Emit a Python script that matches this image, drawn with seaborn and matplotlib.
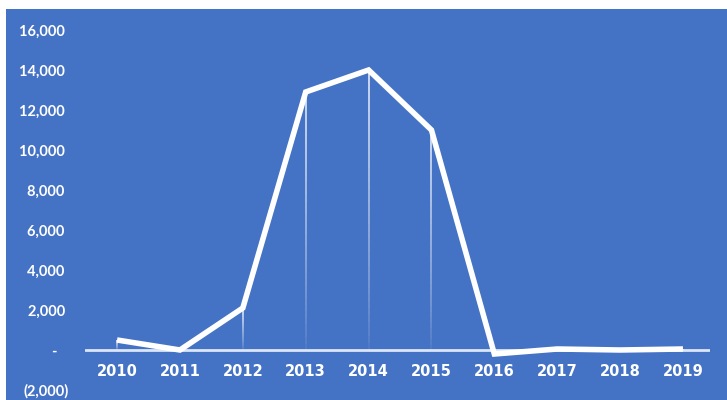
import matplotlib
matplotlib.use("Agg")
import matplotlib.pyplot as plt
from matplotlib.patches import Rectangle
from matplotlib.collections import LineCollection
import numpy as np
import pandas as pd
import seaborn as sns

years = [2010, 2011, 2012, 2013, 2014, 2015, 2016, 2017, 2018, 2019]
values = [500, 0, 2100, 12900, 14000, 11000, -200, 50, 0, 50]
ytick_values = [-2000, 0, 2000, 4000, 6000, 8000, 10000, 12000, 14000, 16000]

BLUE = "#4472C4"
WHITE = "#FFFFFF"

sns.set_theme(style="white")
plt.rcParams["font.family"] = ["Lato", "DejaVu Sans"]

df = pd.DataFrame({"year": years, "value": values})

fig = plt.figure(figsize=(7.27, 4.0), dpi=100)
fig.patch.set_facecolor(WHITE)
# blue panel, leaving a thin white margin at the top and left
fig.patches.append(Rectangle((6 / 727, 0), 1 - 6 / 727, 1 - 9 / 400,
                             transform=fig.transFigure, facecolor=BLUE,
                             edgecolor="none", zorder=-10))

ax = fig.add_axes([85 / 727, 10 / 400, (710 - 85) / 727, 360 / 400])
ax.set_facecolor("none")

# faded drop lines from each point down to zero
segs, cols = [], []
n = 40
for x, v in zip(years, values):
    if v <= 0:
        continue
    ys = np.linspace(0, v, n + 1)
    for i in range(n):
        segs.append([(x, ys[i]), (x, ys[i + 1])])
        a = 0.05 + 0.75 * ((i + 0.5) / n) ** 0.8
        cols.append((1, 1, 1, a))
ax.add_collection(LineCollection(segs, colors=cols, linewidths=1.3, zorder=2))

# zero line
ax.axhline(0, color="#DCE6F6", lw=2.0, zorder=1)

sns.lineplot(data=df, x="year", y="value", ax=ax, color=WHITE, lw=4.0,
             solid_joinstyle="miter", solid_capstyle="butt", zorder=3)

ax.set_xlim(2009.49, 2019.43)
ax.set_ylim(-2000, 16000)


def fmt(v):
    if v == 0:
        return "-   "
    if v < 0:
        return f"({abs(v):,.0f})"
    return f"{v:,.0f} "


ax.set_yticks(ytick_values)
ax.set_yticklabels([fmt(v) for v in ytick_values], color=WHITE,
                   fontsize=10.5, fontweight="bold")
ax.tick_params(axis="y", length=0, pad=12)
ax.set_xticks([])
for x in years:
    ax.text(x, -1100, str(x), ha="center", va="center", color=WHITE,
            fontsize=10.5, fontweight="bold", family=["DejaVu Sans"])

ax.set_xlabel("")
ax.set_ylabel("")
for s in ax.spines.values():
    s.set_visible(False)

fig.savefig("out.png", dpi=100, facecolor=fig.get_facecolor())
